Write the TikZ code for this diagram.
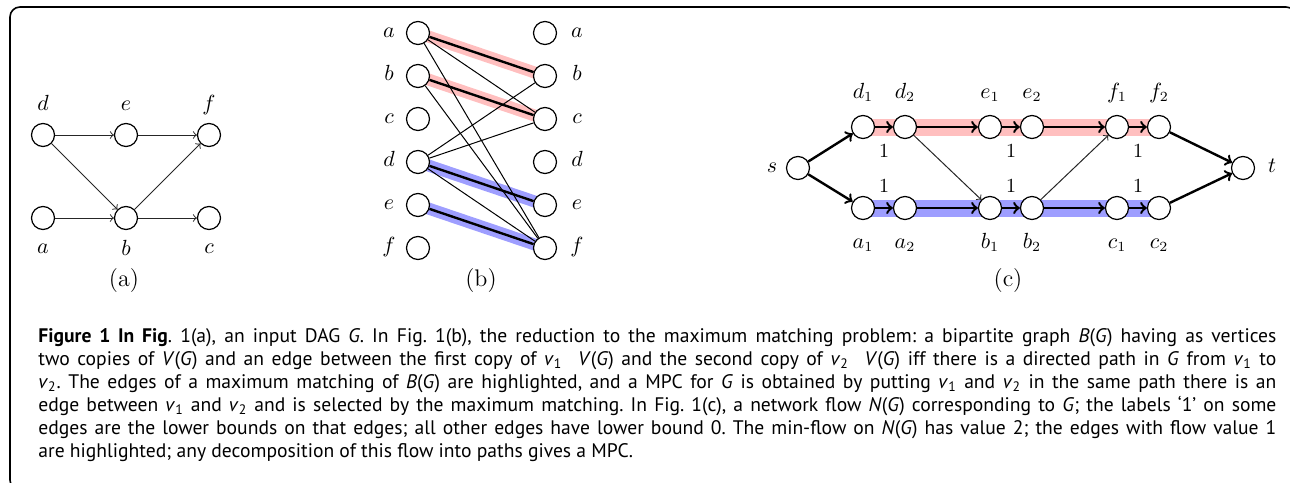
\documentclass[tikz,border=0pt]{standalone}
\usepackage{fontspec}
\setsansfont{PT Sans}
\usetikzlibrary{positioning}
\pgfdeclarelayer{background}
\pgfsetlayers{background,main}
\tikzset{
  vertex/.style={circle, draw, fill=white, minimum size=11.5pt, inner sep=0pt, line width=0.6pt},
  vlabel/.style={font=\fontsize{10.5}{12}\selectfont, anchor=base, inner sep=0pt},
  one/.style={font=\fontsize{10}{12}\selectfont, inner sep=0pt},
  sublabel/.style={font=\fontsize{12}{14}\selectfont},
  thinarc/.style={->, line width=0.5pt, black!85},
  thickarc/.style={->, line width=1.2pt},
  redband/.style={line width=#1, red!25},
  blueband/.style={line width=#1, blue!38},
}

\begin{document}
\begin{tikzpicture}[x=0.5pt, y=-0.5pt]
\useasboundingbox (0,0) rectangle (1290,482);
% Frame
\draw [line width=0.8pt, rounded corners=5pt] (10,7) rectangle (1296,490);

% (a) input DAG G
\def\yT{135}
\def\yB{218}
\node[vertex] (D) at (43,\yT) {};
\node[vertex] (E) at (126,\yT) {};
\node[vertex] (F) at (209,\yT) {};
\node[vertex] (A) at (43,\yB) {};
\node[vertex] (B) at (126,\yB) {};
\node[vertex] (C) at (209,\yB) {};
\node[vlabel] (Dl) at (43,110) {$d$};
\node[vlabel] (El) at (126,110) {$e$};
\node[vlabel] (Fl) at (209,110) {$f$};
\node[vlabel] (Al) at (43,253) {$a$};
\node[vlabel] (Bl) at (126,255) {$b$};
\node[vlabel] (Cl) at (209,253) {$c$};

\draw [thinarc] (D) -- (E);
\draw [thinarc] (E) -- (F);
\draw [thinarc] (D) -- (B);
\draw [thinarc] (A) -- (B);
\draw [thinarc] (B) -- (F);
\draw [thinarc] (B) -- (C);
\node[sublabel] (capA) at (124,281) {(a)};

% (b) bipartite graph B(G)
\foreach \v/\y in {a/33,b/76,c/119,d/162,e/205,f/248}{
  \node[vertex] (L\v) at (418,\y) {};
  \node[vertex] (R\v) at (545,\y) {};
  \node[vlabel] (Ll\v) at (389,\y+4) {$\v$};
  \node[vlabel] (Rl\v) at (577,\y+4) {$\v$};
}
\begin{pgfonlayer}{background}
\draw [redband=6pt] (La.center) -- (Rb.center);
\draw [redband=6pt] (Lb.center) -- (Rc.center);
\draw [blueband=6pt] (Ld.center) -- (Re.center);
\draw [blueband=6pt] (Le.center) -- (Rf.center);
\end{pgfonlayer}
\foreach \u/\v in {a/c,a/f,b/f,d/b,d/c,d/f}
  \draw [line width=0.5pt] (L\u) -- (R\v);
\foreach \u/\v in {a/b,b/c,d/e,e/f}
  \draw [line width=1.2pt] (L\u) -- (R\v);
\node[sublabel] (capB) at (481,281) {(b)};

% (c) network flow N(G)
\node[vertex] (s) at (798,168) {};
\node[vertex] (t) at (1243,168) {};
\node[vlabel] (sl) at (772,172) {$s$};
\node[vlabel] (tl) at (1272,172) {$t$};
\foreach \n/\x in {d/863,e/990,f/1117}{
  \node[vertex] (\n1) at (\x,127) {};
  \node[vertex] (\n2) at (\x+42,127) {};
  \node[vlabel] (\n1l) at (\x,98) {$\n_1$};
  \node[vlabel] (\n2l) at (\x+42,98) {$\n_2$};
}
\foreach \n/\x in {a/863,b/990,c/1117}{
  \node[vertex] (\n1) at (\x,208) {};
  \node[vertex] (\n2) at (\x+42,208) {};
  \node[vlabel] (\n1l) at (\x,248) {$\n_1$};
  \node[vlabel] (\n2l) at (\x+42,248) {$\n_2$};
}
\begin{pgfonlayer}{background}
\draw [redband=8.5pt] (d1.center) -- (f2.center);
\draw [blueband=8.5pt] (a1.center) -- (c2.center);
\end{pgfonlayer}
\draw [thickarc] (s) -- (d1);
\draw [thickarc] (s) -- (a1);
\draw [thickarc] (d1) -- node[one, below=8pt] (wd) {1} (d2);
\draw [thickarc] (d2) -- (e1);
\draw [thickarc] (e1) -- node[one, below=8pt] (we) {1} (e2);
\draw [thickarc] (e2) -- (f1);
\draw [thickarc] (f1) -- node[one, below=8pt] (wf) {1} (f2);
\draw [thickarc] (a1) -- node[one, above=7pt] (wa) {1} (a2);
\draw [thickarc] (a2) -- (b1);
\draw [thickarc] (b1) -- node[one, above=7pt] (wb) {1} (b2);
\draw [thickarc] (b2) -- (c1);
\draw [thickarc] (c1) -- node[one, above=7pt] (wc) {1} (c2);
\draw [thinarc] (d2) -- (b1);
\draw [thinarc] (b2) -- (f1);
\draw [thickarc] (f2) -- (t);
\draw [thickarc] (c2) -- (t);
\node[sublabel] (capC) at (1008,281) {(c)};

% Caption
\node[anchor=north west, inner sep=0pt, text width=619pt, align=justify,
  font=\sffamily\fontsize{9.8}{11.5}\selectfont\frenchspacing] (caption) at (38,328) {%
\textbf{Figure 1 In Fig}. 1(a), an input DAG \textit{G}. In Fig. 1(b), the reduction to the maximum matching problem: a bipartite graph \textit{B}(\textit{G}) having as vertices\linebreak
two copies of \textit{V}(\textit{G}) and an edge between the first copy of \textit{v}\textsubscript{1}\hspace{0.8em}\textit{V}(\textit{G}) and the second copy of \textit{v}\textsubscript{2}\hspace{0.8em}\textit{V}(\textit{G}) iff there is a directed path in \textit{G} from \textit{v}\textsubscript{1} to\linebreak
\textit{v}\textsubscript{2}. The edges of a maximum matching of \textit{B}(\textit{G}) are highlighted, and a MPC for \textit{G} is obtained by putting \textit{v}\textsubscript{1} and \textit{v}\textsubscript{2} in the same path there is an\linebreak
edge between \textit{v}\textsubscript{1} and \textit{v}\textsubscript{2} and is selected by the maximum matching. In Fig. 1(c), a network flow \textit{N}(\textit{G}) corresponding to \textit{G}; the labels `1' on some\linebreak
edges are the lower bounds on that edges; all other edges have lower bound 0. The min-flow on \textit{N}(\textit{G}) has value 2; the edges with flow value 1\linebreak
are highlighted; any decomposition of this flow into paths gives a MPC.};
\end{tikzpicture}
\end{document}
